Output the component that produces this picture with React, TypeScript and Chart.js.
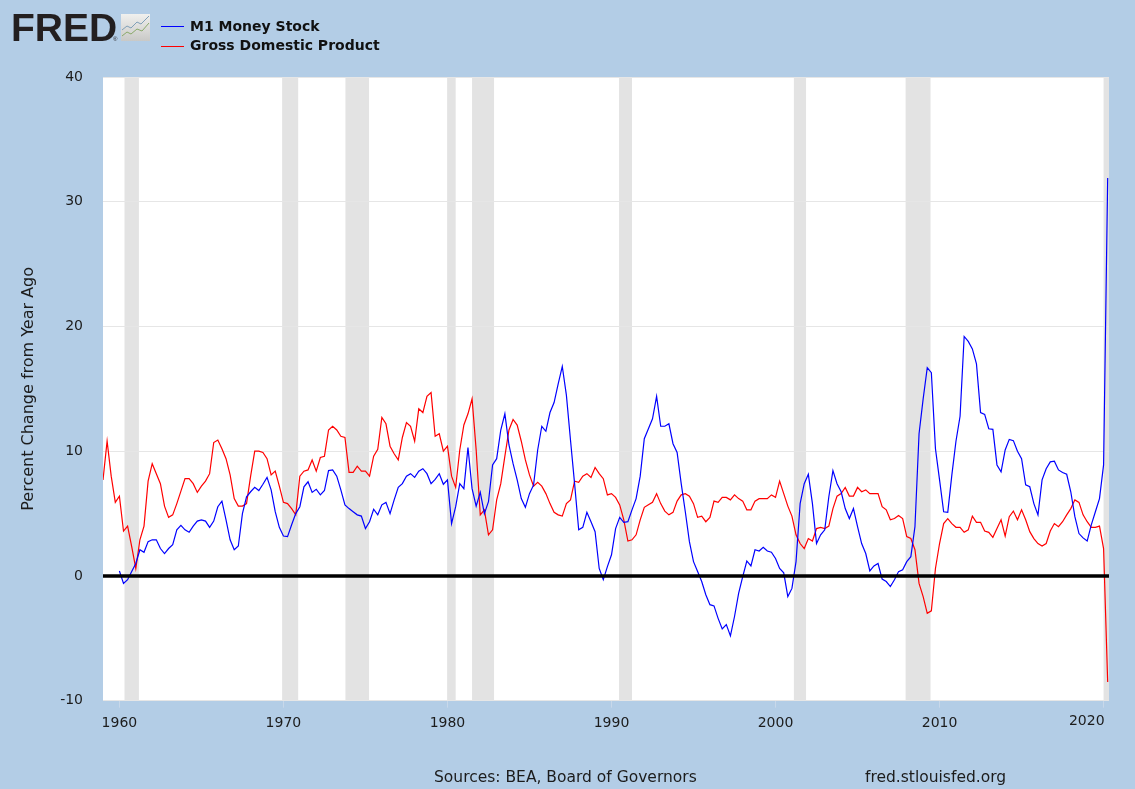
import React, { useEffect, useRef } from "react";
import { Chart, registerables } from "chart.js";

Chart.register(...registerables);

const titleM1 = "M1 Money Stock";
const titleGdp = "Gross Domestic Product";
const yAxisTitle = "Percent Change from Year Ago";
const sourceText = "Sources: BEA, Board of Governors";
const siteText = "fred.stlouisfed.org";

const gdpStartYear = 1959;
const m1StartYear = 1960;
const xTicks = [1960, 1970, 1980, 1990, 2000, 2010, 2020];
const yTicks = [-10, 0, 10, 20, 30, 40];

// Percent change from year ago, quarterly, one row per year.
const gdpValues = [
  7.7, 10.8, 8.0, 5.9,
  6.4, 3.6, 4.0, 2.35,
  0.6, 2.9, 4.0, 7.6,
  9.0, 8.2, 7.4, 5.6,
  4.7, 4.9, 5.8, 6.8,
  7.8, 7.8, 7.4, 6.7,
  7.2, 7.6, 8.2, 10.7,
  10.9, 10.2, 9.4, 8.1,
  6.2, 5.6, 5.6, 5.8,
  8.0, 10.0, 10.0, 9.9,
  9.4, 8.1, 8.4, 7.2,
  5.9, 5.8, 5.4, 4.9,
  8.0, 8.4, 8.5, 9.3,
  8.4, 9.5, 9.6, 11.7,
  12.0, 11.7, 11.2, 11.1,
  8.3, 8.3, 8.8, 8.4,
  8.4, 8.0, 9.6, 10.15,
  12.7, 12.2, 10.4, 9.8,
  9.3, 11.1, 12.3, 12.0,
  10.8, 13.4, 13.1, 14.4,
  14.7, 11.2, 11.4, 10.0,
  10.4, 8.0, 7.1, 10.1,
  12.1, 13.0, 14.2, 10.1,
  4.9, 5.3, 3.3, 3.7,
  6.1, 7.4, 9.6, 11.7,
  12.55, 12.1, 10.8, 9.3,
  8.1, 7.2, 7.5, 7.2,
  6.6, 5.8, 5.1, 4.9,
  4.8, 5.8, 6.1, 7.6,
  7.5, 8.0, 8.2, 7.9,
  8.7, 8.2, 7.8, 6.5,
  6.6, 6.3, 5.7, 4.5,
  2.8, 2.9, 3.3, 4.5,
  5.5, 5.7, 5.9, 6.6,
  5.8, 5.2, 4.9, 5.1,
  6.0, 6.5, 6.6, 6.4,
  5.8, 4.7, 4.8, 4.35,
  4.7, 6.0, 5.9, 6.3,
  6.3, 6.1, 6.5, 6.2,
  6.0, 5.3, 5.3, 6.0,
  6.2, 6.2, 6.2, 6.5,
  6.3, 7.6, 6.6, 5.6,
  4.8, 3.3, 2.6, 2.2,
  3.0, 2.8, 3.8, 3.9,
  3.8, 4.0, 5.4, 6.4,
  6.6, 7.1, 6.4, 6.4,
  7.1, 6.75, 6.9, 6.6,
  6.6, 6.6, 5.55, 5.3,
  4.5, 4.6, 4.85, 4.6,
  3.15, 3.0, 2.1, -0.6,
  -1.65, -3.0, -2.8, 0.6,
  2.6, 4.2, 4.6, 4.2,
  3.9, 3.9, 3.5, 3.7,
  4.8, 4.3, 4.3, 3.6,
  3.5, 3.1, 3.8, 4.5,
  3.2, 4.75, 5.2, 4.5,
  5.3, 4.5, 3.55, 3.0,
  2.6, 2.4, 2.6, 3.6,
  4.2, 3.95, 4.35, 4.9,
  5.4, 6.1, 5.9, 4.9,
  4.35, 3.9, 3.9, 4.0,
  2.2, -8.5,
];

const m1Values = [
  0.4, -0.6, -0.3, 0.35,
  1.0, 2.1, 1.9, 2.75,
  2.9, 2.9, 2.2, 1.8,
  2.2, 2.5, 3.7, 4.05,
  3.7, 3.5, 4.0, 4.4,
  4.5, 4.4, 3.9, 4.4,
  5.55, 6.0, 4.5, 2.9,
  2.1, 2.4, 5.0, 6.35,
  6.75, 7.1, 6.85, 7.35,
  7.9, 6.9, 5.15, 3.9,
  3.2, 3.15, 4.1, 5.0,
  5.55, 7.15, 7.55, 6.7,
  6.95, 6.5, 6.85, 8.45,
  8.5, 8.0, 6.9, 5.7,
  5.4, 5.15, 4.9, 4.8,
  3.8, 4.35, 5.35, 4.9,
  5.7, 5.9, 5.0, 6.1,
  7.1, 7.4, 8.0, 8.2,
  7.9, 8.4, 8.6, 8.2,
  7.4, 7.75, 8.2, 7.35,
  7.7, 4.2, 5.55, 7.4,
  7.0, 10.3, 7.0, 5.6,
  6.7, 5.0, 5.95, 8.9,
  9.4, 11.7, 13.0, 10.5,
  9.0, 7.7, 6.2, 5.5,
  6.6, 7.3, 10.1, 12.0,
  11.6, 13.1, 13.9, 15.4,
  16.8, 14.5, 10.9, 7.4,
  3.7, 3.9, 5.1, 4.35,
  3.55, 0.6, -0.3, 0.75,
  1.7, 3.8, 4.7, 4.3,
  4.35, 5.3, 6.2, 8.0,
  11.0, 11.8, 12.6, 14.4,
  12.0, 12.0, 12.2, 10.6,
  9.9, 7.4, 5.15, 2.75,
  1.15, 0.35, -0.45, -1.5,
  -2.3, -2.4, -3.4, -4.25,
  -3.9, -4.8, -3.25, -1.4,
  -0.05, 1.2, 0.8, 2.1,
  2.0, 2.3, 2.0, 1.9,
  1.4, 0.6, 0.25, -1.65,
  -1.0, 1.15, 5.8, 7.4,
  8.15, 5.8, 2.6, 3.3,
  3.7, 6.35, 8.45, 7.4,
  6.75, 5.4, 4.6, 5.4,
  3.95, 2.6, 1.8, 0.4,
  0.8, 1.0, -0.25, -0.45,
  -0.85, -0.3, 0.35, 0.5,
  1.15, 1.55, 3.95, 11.4,
  14.2, 16.7, 16.3, 10.2,
  7.7, 5.15, 5.1, 8.1,
  10.8, 12.8, 19.2, 18.8,
  18.2, 17.0, 13.1, 12.95,
  11.8, 11.75, 8.9, 8.35,
  10.1, 10.95, 10.85, 10.0,
  9.4, 7.3, 7.15, 5.8,
  4.9, 7.7, 8.6, 9.15,
  9.2, 8.5, 8.3, 8.15,
  6.75, 4.75, 3.4, 3.05,
  2.8, 4.1, 5.15, 6.2,
  8.9, 31.9,
];

const recessionStarts = [1960.31, 1969.92, 1973.78, 1979.98, 1981.5, 1990.46, 2001.12, 2007.93, 2020.0];
const recessionEnds = [1961.19, 1970.9, 1975.22, 1980.5, 1982.84, 1991.25, 2001.86, 2009.45, 2020.33];

const toPoints = (values: number[], startYear: number) =>
  values.map((y, i) => ({ x: startYear + i / 4, y }));

const FONT = '"DejaVu Sans"';
const INK = "#1c1c1c";

const pagePlugin = {
  id: "fredPage",
  beforeDraw(chart: any) {
    const { ctx, chartArea: a, scales } = chart;
    ctx.save();
    ctx.fillStyle = "#b3cde6";
    ctx.fillRect(0, 0, chart.width, chart.height);
    ctx.fillStyle = "#ffffff";
    ctx.fillRect(a.left, a.top, a.right - a.left, a.bottom - a.top);
    ctx.fillStyle = "#e3e3e3";
    recessionStarts.forEach((s, i) => {
      const x0 = scales.x.getPixelForValue(s);
      const x1 = scales.x.getPixelForValue(recessionEnds[i]);
      ctx.fillRect(x0, a.top, x1 - x0, a.bottom - a.top);
    });
    ctx.restore();
  },
  afterDatasetsDraw(chart: any) {
    const { ctx, chartArea: a, scales } = chart;
    const y0 = scales.y.getPixelForValue(0);
    ctx.save();
    ctx.strokeStyle = "#000000";
    ctx.lineWidth = 3.5;
    ctx.beginPath();
    ctx.moveTo(a.left, y0);
    ctx.lineTo(a.right, y0);
    ctx.stroke();
    ctx.restore();
  },
  afterDraw(chart: any) {
    const { ctx, scales, data } = chart;
    ctx.save();

    // Last x label sits flush against the plot's right end.
    ctx.fillStyle = INK;
    ctx.font = `14px ${FONT}`;
    ctx.textAlign = "right";
    ctx.textBaseline = "middle";
    ctx.fillText("2020", scales.x.getPixelForValue(2020) + 1, 721);

    // Footer
    ctx.textAlign = "left";
    ctx.font = `15.5px ${FONT}`;
    ctx.fillText(sourceText, 434, 778);
    ctx.fillText(siteText, 865, 778);

    // Legend
    ctx.font = `bold 14px ${FONT}`;
    data.datasets.forEach((d: any, i: number) => {
      const y = 26 + i * 19.5;
      ctx.strokeStyle = d.borderColor;
      ctx.lineWidth = 1;
      ctx.beginPath();
      ctx.moveTo(161, Math.round(y) + 0.5);
      ctx.lineTo(184, Math.round(y) + 0.5);
      ctx.stroke();
      ctx.fillStyle = "#111111";
      ctx.fillText(d.label, 190, y + 1);
    });

    // Logo wordmark and icon
    ctx.fillStyle = "#231f20";
    ctx.textBaseline = "alphabetic";
    ctx.font = `bold 39px "Liberation Sans"`;
    ctx.fillText("FRED", 11, 41);
    ctx.font = `6px "Liberation Sans"`;
    ctx.fillText("®", 113, 41);
    const g = ctx.createLinearGradient(0, 14, 0, 41);
    g.addColorStop(0, "#f0f0ee");
    g.addColorStop(1, "#c9c9c7");
    ctx.fillStyle = g;
    ctx.fillRect(121, 14, 29, 27);
    ctx.lineWidth = 1;
    ctx.strokeStyle = "#7f9fb8";
    ctx.beginPath();
    ctx.moveTo(122, 30); ctx.lineTo(127, 26); ctx.lineTo(131, 28); ctx.lineTo(137, 22); ctx.lineTo(141, 24); ctx.lineTo(149, 16);
    ctx.stroke();
    ctx.strokeStyle = "#8aa96a";
    ctx.beginPath();
    ctx.moveTo(122, 36); ctx.lineTo(127, 32); ctx.lineTo(131, 34); ctx.lineTo(137, 29); ctx.lineTo(142, 31); ctx.lineTo(149, 23);
    ctx.stroke();
    ctx.restore();
  },
};

export default function App() {
  const ref = useRef<HTMLCanvasElement>(null);

  useEffect(() => {
    document.body.style.margin = "0";
    const chart = new Chart(ref.current as HTMLCanvasElement, {
      type: "line",
      data: {
        datasets: [
          {
            label: titleM1,
            data: toPoints(m1Values, m1StartYear),
            borderColor: "#0000ff",
            borderWidth: 1.2,
            pointRadius: 0,
            tension: 0,
          },
          {
            label: titleGdp,
            data: toPoints(gdpValues, gdpStartYear),
            borderColor: "#ff0000",
            borderWidth: 1.2,
            pointRadius: 0,
            tension: 0,
          },
        ],
      },
      options: {
        animation: false,
        responsive: false,
        parsing: false,
        layout: { padding: { top: 77, right: 26, left: 0, bottom: 0 } },
        plugins: { legend: { display: false }, tooltip: { enabled: false }, title: { display: false } },
        scales: {
          x: {
            type: "linear",
            min: gdpStartYear,
            max: 2020.33,
            afterBuildTicks: (s: any) => {
              s.ticks = xTicks.map((value) => ({ value }));
            },
            afterFit: (s: any) => {
              s.height = 88.3;
            },
            border: { display: false },
            grid: { drawOnChartArea: false, drawTicks: true, tickLength: 7, tickColor: "#c8d8ea", lineWidth: 1 },
            ticks: {
              autoSkip: false,
              maxRotation: 0,
              padding: 7,
              color: INK,
              font: { family: FONT, size: 14 },
              callback: (v: any) => (v === 2020 ? "" : String(v)),
            },
          },
          y: {
            type: "linear",
            min: -10,
            max: 40,
            afterBuildTicks: (s: any) => {
              s.ticks = yTicks.map((value) => ({ value }));
            },
            afterFit: (s: any) => {
              s.width = 103;
            },
            border: { display: false },
            grid: { color: "#e6e6e6", lineWidth: 1, drawTicks: false },
            title: {
              display: true,
              text: yAxisTitle,
              color: INK,
              font: { family: FONT, size: 16 },
              padding: { top: 19, bottom: 0 },
            },
            ticks: {
              padding: 20,
              color: INK,
              font: { family: FONT, size: 14 },
              callback: (v: any) => String(v),
            },
          },
        },
      } as any,
      plugins: [pagePlugin],
    });
    return () => chart.destroy();
  }, []);

  return <canvas ref={ref} width={1135} height={789} style={{ display: "block", filter: "blur(0.45px)" }} />;
}
